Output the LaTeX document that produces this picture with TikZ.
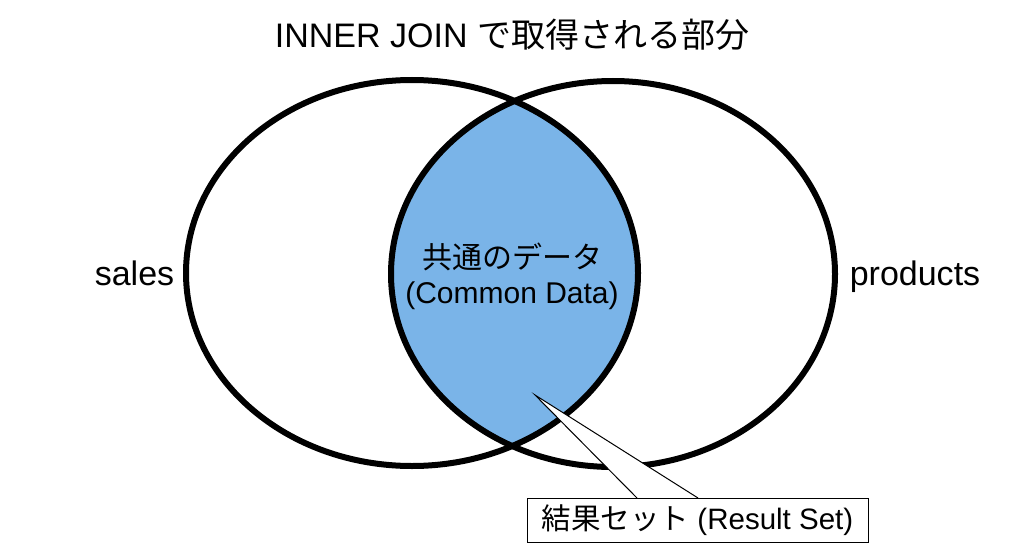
\documentclass[tikz,border=0pt]{standalone}
\usepackage{fontspec}
\setmainfont{Liberation Sans}
\newfontfamily\jp{Noto Sans CJK JP}
\usetikzlibrary{positioning}
\definecolor{commonblue}{RGB}{122,180,232}
\tikzset{
  ring/.style={line width=6pt},
  setlabel/.style={anchor=base, inner sep=0pt, font=\fontsize{34}{40}\selectfont},
  midlabel/.style={anchor=base, inner sep=0pt, font=\fontsize{30}{36}\selectfont},
  resbox/.style={draw, fill=white, line width=1pt, minimum width=341pt, minimum height=44pt, inner sep=0pt, font=\fontsize{29.5}{34}\selectfont},
  pointer/.style={draw, fill=white, line width=1pt, line join=miter}
}
\begin{document}
\begin{tikzpicture}[x=1pt,y=-1pt]
\useasboundingbox[fill=white] (0,0) rectangle (1024,559);
\coordinate (cl) at (412,273);
\coordinate (cr) at (613,274);
\begin{scope}
\clip (cl) ellipse [x radius=226, y radius=193];
\fill[commonblue] (cr) ellipse [x radius=222, y radius=193];
\end{scope}
\draw[ring] (cl) ellipse [x radius=226, y radius=193];
\draw[ring] (cr) ellipse [x radius=222, y radius=193];
\node[setlabel] (title) at (512,48) {INNER JOIN {\jp で取得される部分}};
\node[setlabel] (sales) at (134.5,285) {sales};
\node[setlabel] (products) at (915,285) {products};
\node[midlabel] (commonjp) at (512,268) {\jp 共通のデータ};
\node[midlabel] (common) at (512,303) {(Common Data)};
\coordinate (tip) at (535,395);
\coordinate (pa) at (637,498);
\coordinate (pb) at (698,498);
\path[pointer] (pa) -- (tip) -- (pb);
\node[resbox] (res) at (697.5,520) {{\jp 結果セット} (Result Set)};
\end{tikzpicture}
\end{document}
